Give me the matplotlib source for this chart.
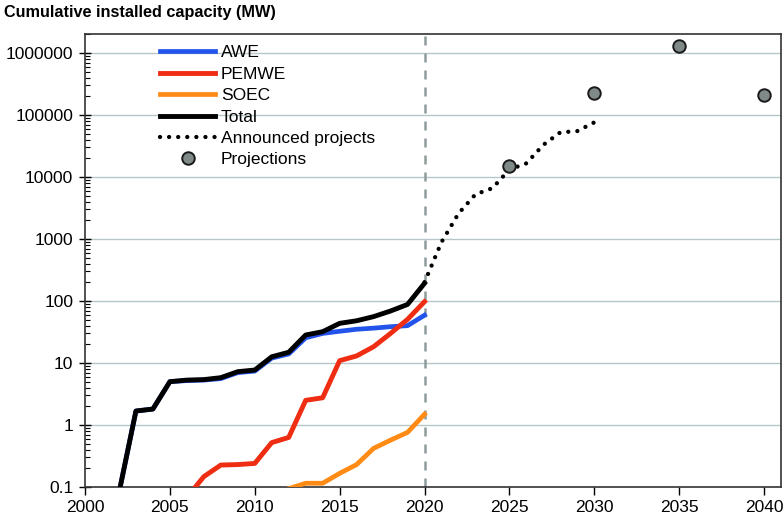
import numpy as np
import matplotlib.pyplot as plt
from matplotlib.ticker import LogLocator, NullFormatter

plt.rcParams['font.family'] = ['Liberation Sans', 'DejaVu Sans']

years = np.arange(2002, 2021)
awe = [0.08, 1.68, 1.81, 5.0, 5.2, 5.3, 5.6, 7.0, 7.4, 12.0, 14.0, 25.5, 30.0,
       32.5, 35.0, 36.5, 38.5, 40.0, 59.0]
pemwe_years = np.arange(2006, 2021)
pemwe = [0.068, 0.147, 0.226, 0.23, 0.24, 0.52, 0.63, 2.5, 2.75, 10.9, 13.0,
         18.3, 30.0, 50.6, 97.5]
soec_years = np.arange(2012, 2021)
soec = [0.094, 0.115, 0.115, 0.166, 0.23, 0.42, 0.57, 0.76, 1.49]
total = [0.08, 1.68, 1.81, 5.0, 5.3, 5.4, 5.8, 7.25, 7.7, 12.6, 14.9, 28.3, 32.0,
         43.6, 48.0, 56.0, 69.0, 88.0, 193.0]

announced_years = np.arange(2020, 2031)
announced = [200, 890, 2570, 5250, 6600, 13200, 16600, 33000, 52500, 55000, 76000]

proj_years = [2025, 2030, 2035, 2040]
projections = [15000, 224000, 1300000, 210000]

fig = plt.figure(figsize=(7.84, 5.17), dpi=100)
ax = fig.add_axes([85 / 784, 1 - 487 / 517, 696 / 784, 453 / 517])

ax.set_yscale('log')
ax.set_xlim(2000, 2041)
ax.set_ylim(0.1, 10 ** (6 + 19 / 62))

# horizontal grid at each decade
for v in [1, 10, 100, 1000, 10000, 100000, 1000000]:
    ax.axhline(v, color='#b7c7c9', lw=1.0, zorder=0)

ax.axvline(2020, color='#8f9c9c', lw=1.8, ls=(0, (3.6, 3.2)), zorder=1)

ax.plot(years, awe, color='#2253ea', lw=3.4, label='AWE', zorder=3)
ax.plot(pemwe_years, pemwe, color='#ee2d12', lw=3.5, label='PEMWE', zorder=3)
ax.plot(soec_years, soec, color='#ff8a14', lw=3.4, label='SOEC', zorder=3)
ax.plot(years, total, color='black', lw=3.5, label='Total', zorder=4)
ax.plot(announced_years, announced, color='black', lw=3.1, ls=(0, (0.01, 2.1)),
        dash_capstyle='round', label='Announced projects', zorder=4)
ax.plot(proj_years, projections, ls='none', marker='o', ms=9, mfc='#7f8a88',
        mec='#1a1a1a', mew=1.4, label='Projections', zorder=5, clip_on=False)

ax.set_xticks([2000, 2005, 2010, 2015, 2020, 2025, 2030, 2035, 2040])
ax.set_yticks([0.1, 1, 10, 100, 1000, 10000, 100000, 1000000])
ax.set_yticklabels(['0.1', '1', '10', '100', '1000', '10000', '100000', '1000000'])
ax.yaxis.set_minor_locator(LogLocator(base=10, subs=np.arange(2, 10), numticks=20))
ax.yaxis.set_minor_formatter(NullFormatter())

ax.tick_params(axis='y', which='major', direction='inout', length=9, width=1, labelsize=12.5, pad=4)
ax.tick_params(axis='y', which='minor', direction='in', length=3.5, width=0.8)
ax.tick_params(axis='x', which='major', direction='out', length=6, width=1, labelsize=12.5, pad=3)
for s in ax.spines.values():
    s.set_color('#333333')
    s.set_linewidth(1.2)

ax.legend(loc='upper left', bbox_to_anchor=(0.092, 1.0), frameon=False,
          fontsize=12.5, handlelength=3.15, handletextpad=0.35,
          labelspacing=0.36, borderaxespad=0.25)

fig.text(4 / 784, 1 - 12 / 517, 'Cumulative installed capacity (MW)', fontsize=11.7,
         fontweight='bold', va='center', ha='left')

fig.savefig('out.png', dpi=100)
